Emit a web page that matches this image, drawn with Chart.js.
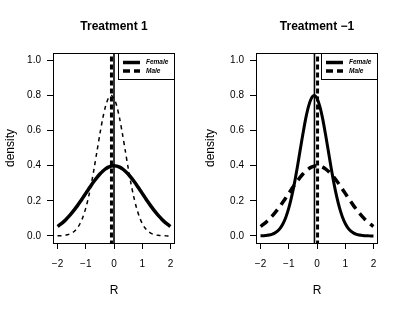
<!DOCTYPE html>
<html>
<head>
<meta charset="utf-8">
<script src="https://cdn.jsdelivr.net/npm/chart.js@4/dist/chart.umd.min.js"></script>
<style>
  html, body { margin:0; padding:0; background:#fff; }
  .panel { position:absolute; top:0; height:310px; }
  #p1 { left:0; width:202px; }
  #p2 { left:202px; width:203px; }
</style>
</head>
<body>
<div class="panel" id="p1"><canvas id="c1" width="202" height="310"></canvas></div>
<div class="panel" id="p2"><canvas id="c2" width="203" height="310"></canvas></div>
<script>
// ---- data ----
const rValues = [-2.0,-1.9,-1.8,-1.7,-1.6,-1.5,-1.4,-1.3,-1.2,-1.1,-1.0,-0.9,-0.8,-0.7,-0.6,-0.5,-0.4,-0.3,-0.2,-0.1,
                 0.0,0.1,0.2,0.3,0.4,0.5,0.6,0.7,0.8,0.9,1.0,1.1,1.2,1.3,1.4,1.5,1.6,1.7,1.8,1.9,2.0];
// Treatment 1
const t1Female = [0.054,0.066,0.079,0.094,0.111,0.130,0.150,0.171,0.194,0.218,0.242,0.266,0.290,0.312,0.333,0.352,0.368,0.381,0.391,0.397,
                  0.399,0.397,0.391,0.381,0.368,0.352,0.333,0.312,0.290,0.266,0.242,0.218,0.194,0.171,0.150,0.130,0.111,0.094,0.079,0.066,0.054];
const t1Male   = [0.001,0.001,0.003,0.005,0.009,0.016,0.027,0.045,0.071,0.108,0.158,0.222,0.299,0.388,0.484,0.579,0.667,0.737,0.782,0.798,
                  0.782,0.737,0.667,0.579,0.484,0.388,0.299,0.222,0.158,0.108,0.071,0.045,0.027,0.016,0.009,0.005,0.003,0.001,0.001,0.000,0.000];
const t1Means  = [0.0, -0.09];   // Female (solid), Male (dashed)
// Treatment -1
const t2Female = [0.001,0.001,0.003,0.005,0.009,0.016,0.027,0.045,0.071,0.108,0.158,0.222,0.299,0.388,0.484,0.579,0.667,0.737,0.782,0.798,
                  0.782,0.737,0.667,0.579,0.484,0.388,0.299,0.222,0.158,0.108,0.071,0.045,0.027,0.016,0.009,0.005,0.003,0.001,0.001,0.000,0.000];
const t2Male   = [0.054,0.066,0.079,0.094,0.111,0.130,0.150,0.171,0.194,0.218,0.242,0.266,0.290,0.312,0.333,0.352,0.368,0.381,0.391,0.397,
                  0.399,0.397,0.391,0.381,0.368,0.352,0.333,0.312,0.290,0.266,0.242,0.218,0.194,0.171,0.150,0.130,0.111,0.094,0.079,0.066,0.054];
const t2Means  = [-0.09, 0.02];  // Female (solid), Male (dashed)
const xTicks = [-2,-1,0,1,2];
const yTicks = [0,0.2,0.4,0.6,0.8,1.0];
const legendLabels = ["Female","Male"];
const titles = ["Treatment 1","Treatment \u22121"];
const xLabel = "R";
const yLabel = "density";

const FONT = "'Liberation Sans', Arial, Helvetica, sans-serif";

function pts(xs, ys){ return xs.map((x,i)=>({x:x, y:ys[i]})); }
function vline(x){ return [{x:x,y:-0.1},{x:x,y:1.1}]; }

const framePlugin = {
  id:'frame',
  afterDraw(chart, args, opts){
    const ctx = chart.ctx, a = chart.chartArea;
    ctx.save();
    // box
    ctx.strokeStyle = '#000'; ctx.lineWidth = 1;
    ctx.strokeRect(Math.round(a.left)+0.5, Math.round(a.top)+0.5, Math.round(a.right-a.left)-1, Math.round(a.bottom-a.top));
    // legend
    const lx0 = a.right - 57, ly0 = a.top, lw = 57, lh = 26;
    ctx.fillStyle = '#fff';
    ctx.fillRect(lx0+0.5, ly0+0.5, lw-1, lh);
    ctx.strokeRect(lx0+0.5, ly0+0.5, lw-1, lh);
    ctx.strokeStyle = '#000'; ctx.lineWidth = 3.5;
    ctx.setLineDash([]);
    ctx.beginPath(); ctx.moveTo(lx0+5, ly0+9.5); ctx.lineTo(lx0+22, ly0+9.5); ctx.stroke();
    ctx.setLineDash([7,4]);
    ctx.beginPath(); ctx.moveTo(lx0+5, ly0+18); ctx.lineTo(lx0+22, ly0+18); ctx.stroke();
    ctx.setLineDash([]);
    ctx.fillStyle = '#000';
    ctx.font = "italic bold 6.5px " + FONT;
    ctx.textBaseline = 'middle'; ctx.textAlign = 'left';
    ctx.fillText(legendLabels[0], lx0+28, ly0+9.5);
    ctx.fillText(legendLabels[1], lx0+28, ly0+18);
    // title
    const cx = (a.left + a.right)/2;
    ctx.textAlign = 'center'; ctx.textBaseline = 'alphabetic';
    ctx.font = "bold 12px " + FONT;
    ctx.fillText(opts.title, cx, 30);
    // x label
    ctx.font = "12px " + FONT;
    ctx.fillText(xLabel, cx, 294);
    // y label
    ctx.save();
    ctx.translate(opts.ylx, (a.top + a.bottom)/2);
    ctx.rotate(-Math.PI/2);
    ctx.textBaseline = 'middle';
    ctx.fillText(yLabel, 0, 0);
    ctx.restore();
    ctx.restore();
  }
};

function makeChart(id, female, male, means, femaleW, maleW, maleDash, title, ylx, yw){
  return new Chart(document.getElementById(id), {
    type:'line',
    data:{
      datasets:[
        {data:pts(rValues,female), borderColor:'#000', borderWidth:femaleW, pointRadius:0, tension:0.3, fill:false},
        {data:pts(rValues,male), borderColor:'#000', borderWidth:maleW, borderDash:maleDash, pointRadius:0, tension:0.3, fill:false},
        {data:vline(means[0]), borderColor:'#000', borderWidth:1.6, pointRadius:0, fill:false},
        {data:vline(means[1]), borderColor:'#000', borderWidth:3, borderDash:[5,3], pointRadius:0, fill:false}
      ]
    },
    options:{
      responsive:false, animation:false, events:[],
      layout:{padding:{left:0,right:27,top:53,bottom:0}},
      plugins:{legend:{display:false}, tooltip:{enabled:false}, title:{display:false}, frame:{title:title, ylx:ylx}},
      scales:{
        x:{type:'linear', min:-2.16, max:2.16,
           afterBuildTicks:(s)=>{ s.ticks = xTicks.map(v=>({value:v})); },
           afterFit:(s)=>{ s.height = 67; },
           grid:{drawOnChartArea:false, drawTicks:true, tickLength:6, tickColor:'#000', tickWidth:1},
           border:{display:false},
           ticks:{color:'#000', font:{family:FONT, size:10}, padding:9, maxRotation:0, autoSkip:false,
                  callback:(v)=> (v<0? '\u2212'+Math.abs(v) : String(v))}},
        y:{type:'linear', min:-0.04, max:1.04,
           afterBuildTicks:(s)=>{ s.ticks = yTicks.map(v=>({value:v})); },
           afterFit:(s)=>{ s.width = yw; },
           grid:{drawOnChartArea:false, drawTicks:true, tickLength:6, tickColor:'#000', tickWidth:1},
           border:{display:false},
           ticks:{color:'#000', font:{family:FONT, size:10}, padding:6, autoSkip:false,
                  callback:(v)=> Number(v).toFixed(1)}}
      }
    },
    plugins:[framePlugin]
  });
}

makeChart('c1', t1Female, t1Male, t1Means, 3.5, 1.5, [4,4], titles[0], 11, 53);
makeChart('c2', t2Female, t2Male, t2Means, 3, 3.5, [9,6], titles[1], 9, 54);
</script>
</body>
</html>
